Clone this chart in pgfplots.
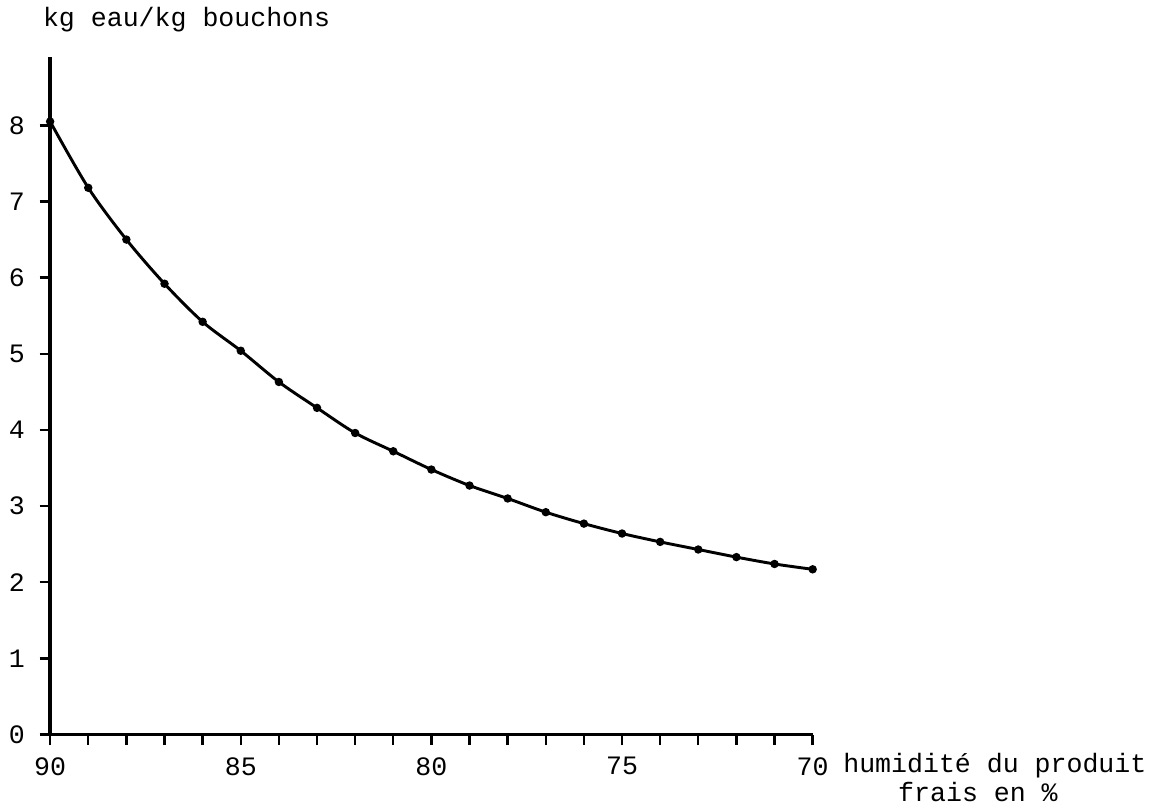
\documentclass[border=0pt]{standalone}
\usepackage{fontspec}
\setmainfont{Liberation Mono}
\usepackage{pgfplots}
\pgfplotsset{compat=1.18}
\pgfplotstableread{
x y
90 8.05
89 7.18
88 6.50
87 5.92
86 5.42
85 5.04
84 4.63
83 4.29
82 3.96
81 3.72
80 3.48
79 3.27
78 3.10
77 2.92
76 2.77
75 2.64
74 2.53
73 2.43
72 2.33
71 2.24
70 2.17
}\datatable
\begin{document}
\begin{tikzpicture}
\begin{axis}[
  scale only axis,
  width=286.9pt, height=255pt,
  x dir=reverse,
  xmin=70, xmax=90, ymin=0, ymax=8.9,
  axis x line=bottom, axis y line=left,
  axis line style={-, line width=1.3pt},
  xtick={70,75,80,85,90}, minor xtick={71,...,89},
  ytick={0,...,8},
  tick align=outside,
  major tick length=4pt, minor tick length=4pt,
  tick style={black, line width=0.9pt},
  clip=false,
  /pgf/number format/assume math mode=true,
  ticklabel style={font=\fontsize{10}{12}\selectfont},
  xticklabel style={yshift=-1pt},
  yticklabel style={xshift=-2pt},
]
\path (axis cs:91.22,-0.916) rectangle (axis cs:61.1,9.646);
\addplot[black, line width=1.1pt, smooth, mark=*, mark size=1pt] table[x=x,y=y] {\datatable};
\node[anchor=west, inner sep=0pt, font=\fontsize{10}{12}\selectfont] at (axis cs:90.2,9.385) {kg eau/kg bouchons};
\node[anchor=west, inner sep=0pt, font=\fontsize{10}{12}\selectfont] at (axis cs:69.21,-0.406) {humidité du produit};
\node[anchor=west, inner sep=0pt, font=\fontsize{10}{12}\selectfont] at (axis cs:67.77,-0.759) {frais en \%};
\end{axis}
\end{tikzpicture}
\end{document}
